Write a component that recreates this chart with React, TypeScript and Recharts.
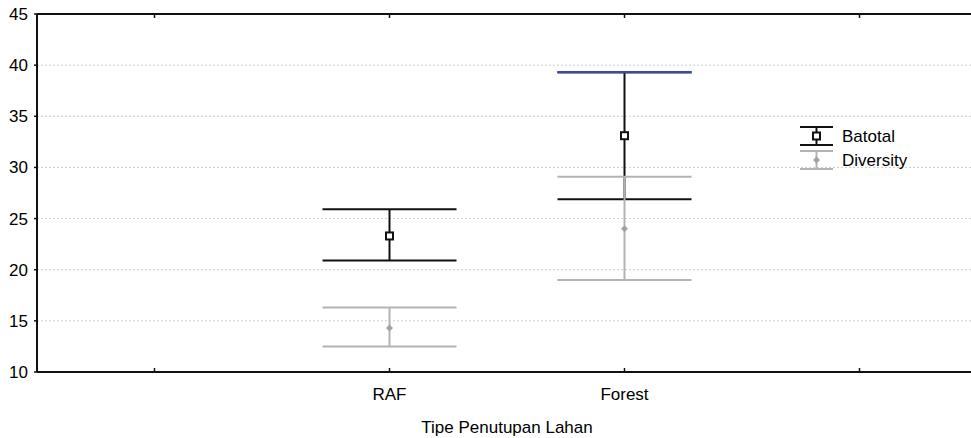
import {
  CartesianGrid,
  ErrorBar,
  Legend,
  Scatter,
  ScatterChart,
  XAxis,
  YAxis
} from 'recharts';

const tickLabels = ['', 'RAF', 'Forest', ''];
const categories = ['RAF', 'Forest'];
const categoryPos = [2, 3];

const batotalMean = [23.3, 33.1];
const batotalLow = [20.9, 26.9];
const batotalHigh = [25.9, 39.3];

const diversityMean = [14.3, 24.0];
const diversityLow = [12.5, 19.0];
const diversityHigh = [16.3, 29.1];

const yTicks = [10, 15, 20, 25, 30, 35, 40, 45];
const xTicks = [1, 2, 3, 4];

const BLACK = '#111';
const GREY = '#b3b3b3';
const GREY_DOT = '#a3a3a3';
const BLUE = '#3a4aa8';
const FONT = "'Liberation Sans', Arial, sans-serif";

const toRows = (mean: number[], low: number[], high: number[]) =>
  categories.map((name, i) => ({
    name,
    x: categoryPos[i],
    y: mean[i],
    err: [mean[i] - low[i], high[i] - mean[i]],
  }));

const batotalRows = toRows(batotalMean, batotalLow, batotalHigh);
const diversityRows = toRows(diversityMean, diversityLow, diversityHigh);
// the upper cap of Forest Batotal is drawn in blue in the original
const blueCapRows = [{ x: categoryPos[1], y: batotalHigh[1], err: [0, 0] }];

const SquareDot = (props: any) => {
  const { cx, cy } = props;
  return <rect x={cx - 3.5} y={cy - 3.5} width={7} height={7} fill='#fff' stroke={BLACK} strokeWidth={2} />;
};

const DiamondDot = (props: any) => {
  const { cx, cy } = props;
  return <polygon points={`${cx},${cy - 3.5} ${cx + 3.5},${cy} ${cx},${cy + 3.5} ${cx - 3.5},${cy}`} fill={GREY_DOT} />;
};

const NoDot = () => <g />;

const LegendIcon = ({ kind }: { kind: string }) => {
  const c = kind === 'Batotal' ? BLACK : GREY;
  return (
    <svg width={34} height={24} style={{ marginRight: 8, display: 'block' }}>
      <line x1={0} x2={33} y1={2} y2={2} stroke={c} strokeWidth={2} />
      <line x1={16.5} x2={16.5} y1={2} y2={20} stroke={c} strokeWidth={2} />
      <line x1={0} x2={33} y1={20} y2={20} stroke={c} strokeWidth={2} />
      {kind === 'Batotal'
        ? <rect x={13} y={7.5} width={7} height={7} fill='#fff' stroke={BLACK} strokeWidth={2} />
        : <polygon points='16.5,7.5 20,11 16.5,14.5 13,11' fill={GREY_DOT} />}
    </svg>
  );
};

const renderLegend = (props: any) => {
  const items = (props.payload || []).filter((p: any) => p.type !== 'none');
  return (
    <div style={{ fontFamily: FONT, fontSize: 17, color: '#000' }}>
      {items.map((p: any) => (
        <div key={p.value} style={{ display: 'flex', alignItems: 'center', height: 24 }}>
          <LegendIcon kind={p.value} />
          <span>{p.value}</span>
        </div>
      ))}
    </div>
  );
};

export default function App() {
  return (
    <div style={{ position: 'fixed', left: 0, top: 0, width: 971, height: 438, overflow: 'hidden', background: '#fff', fontFamily: FONT }}>
      <ScatterChart width={980} height={438} margin={{ top: 4, right: 3, left: 0, bottom: 0 }}>
        <CartesianGrid xAxisId='b' vertical={false} stroke='#cdcdcd' strokeDasharray='2 2' />
        <XAxis
          xAxisId='t'
          orientation='top'
          type='number'
          dataKey='x'
          domain={[0.5, 4.5]}
          ticks={xTicks}
          interval={0}
          height={10}
          tickSize={-4}
          tickFormatter={() => ''}
          axisLine={{ stroke: BLACK, strokeWidth: 2 }}
          tickLine={{ stroke: BLACK, strokeWidth: 1.5 }}
          allowDataOverflow
        />
        <XAxis
          xAxisId='b'
          type='number'
          dataKey='x'
          domain={[0.5, 4.5]}
          ticks={xTicks}
          interval={0}
          height={66}
          tickSize={-4}
          tickMargin={20}
          tickFormatter={(v: number) => tickLabels[v - 1] ?? ''}
          tick={{ fill: '#000', fontSize: 17 }}
          axisLine={{ stroke: BLACK, strokeWidth: 2 }}
          tickLine={{ stroke: BLACK, strokeWidth: 1.5 }}
          label={{ value: 'Tipe Penutupan Lahan', position: 'insideBottom', offset: 5, fill: '#000', fontSize: 17 }}
          allowDataOverflow
        />
        <YAxis
          type='number'
          dataKey='y'
          domain={[10, 45]}
          ticks={yTicks}
          interval={0}
          width={37}
          tickSize={3}
          tickMargin={6}
          tick={{ fill: '#000', fontSize: 17 }}
          axisLine={{ stroke: BLACK, strokeWidth: 2 }}
          tickLine={{ stroke: BLACK, strokeWidth: 1.5 }}
          allowDataOverflow
        />
        <Legend
          layout='horizontal'
          verticalAlign='middle'
          align='center'
          content={renderLegend}
          wrapperStyle={{ left: 800, top: 125, width: 160, height: 48 }}
        />
        <Scatter name='Batotal' xAxisId='b' data={batotalRows} shape={SquareDot} isAnimationActive={false}>
          <ErrorBar dataKey='err' direction='y' width={67} stroke={BLACK} strokeWidth={2} isAnimationActive={false} />
        </Scatter>
        <Scatter name='blue cap' xAxisId='t' data={blueCapRows} shape={NoDot} legendType='none' isAnimationActive={false}>
          <ErrorBar dataKey='err' direction='y' width={67} stroke={BLUE} strokeWidth={2} isAnimationActive={false} />
        </Scatter>
        <Scatter name='Diversity' xAxisId='b' data={diversityRows} shape={DiamondDot} isAnimationActive={false}>
          <ErrorBar dataKey='err' direction='y' width={67} stroke={GREY} strokeWidth={2} isAnimationActive={false} />
        </Scatter>
      </ScatterChart>
    </div>
  );
}
